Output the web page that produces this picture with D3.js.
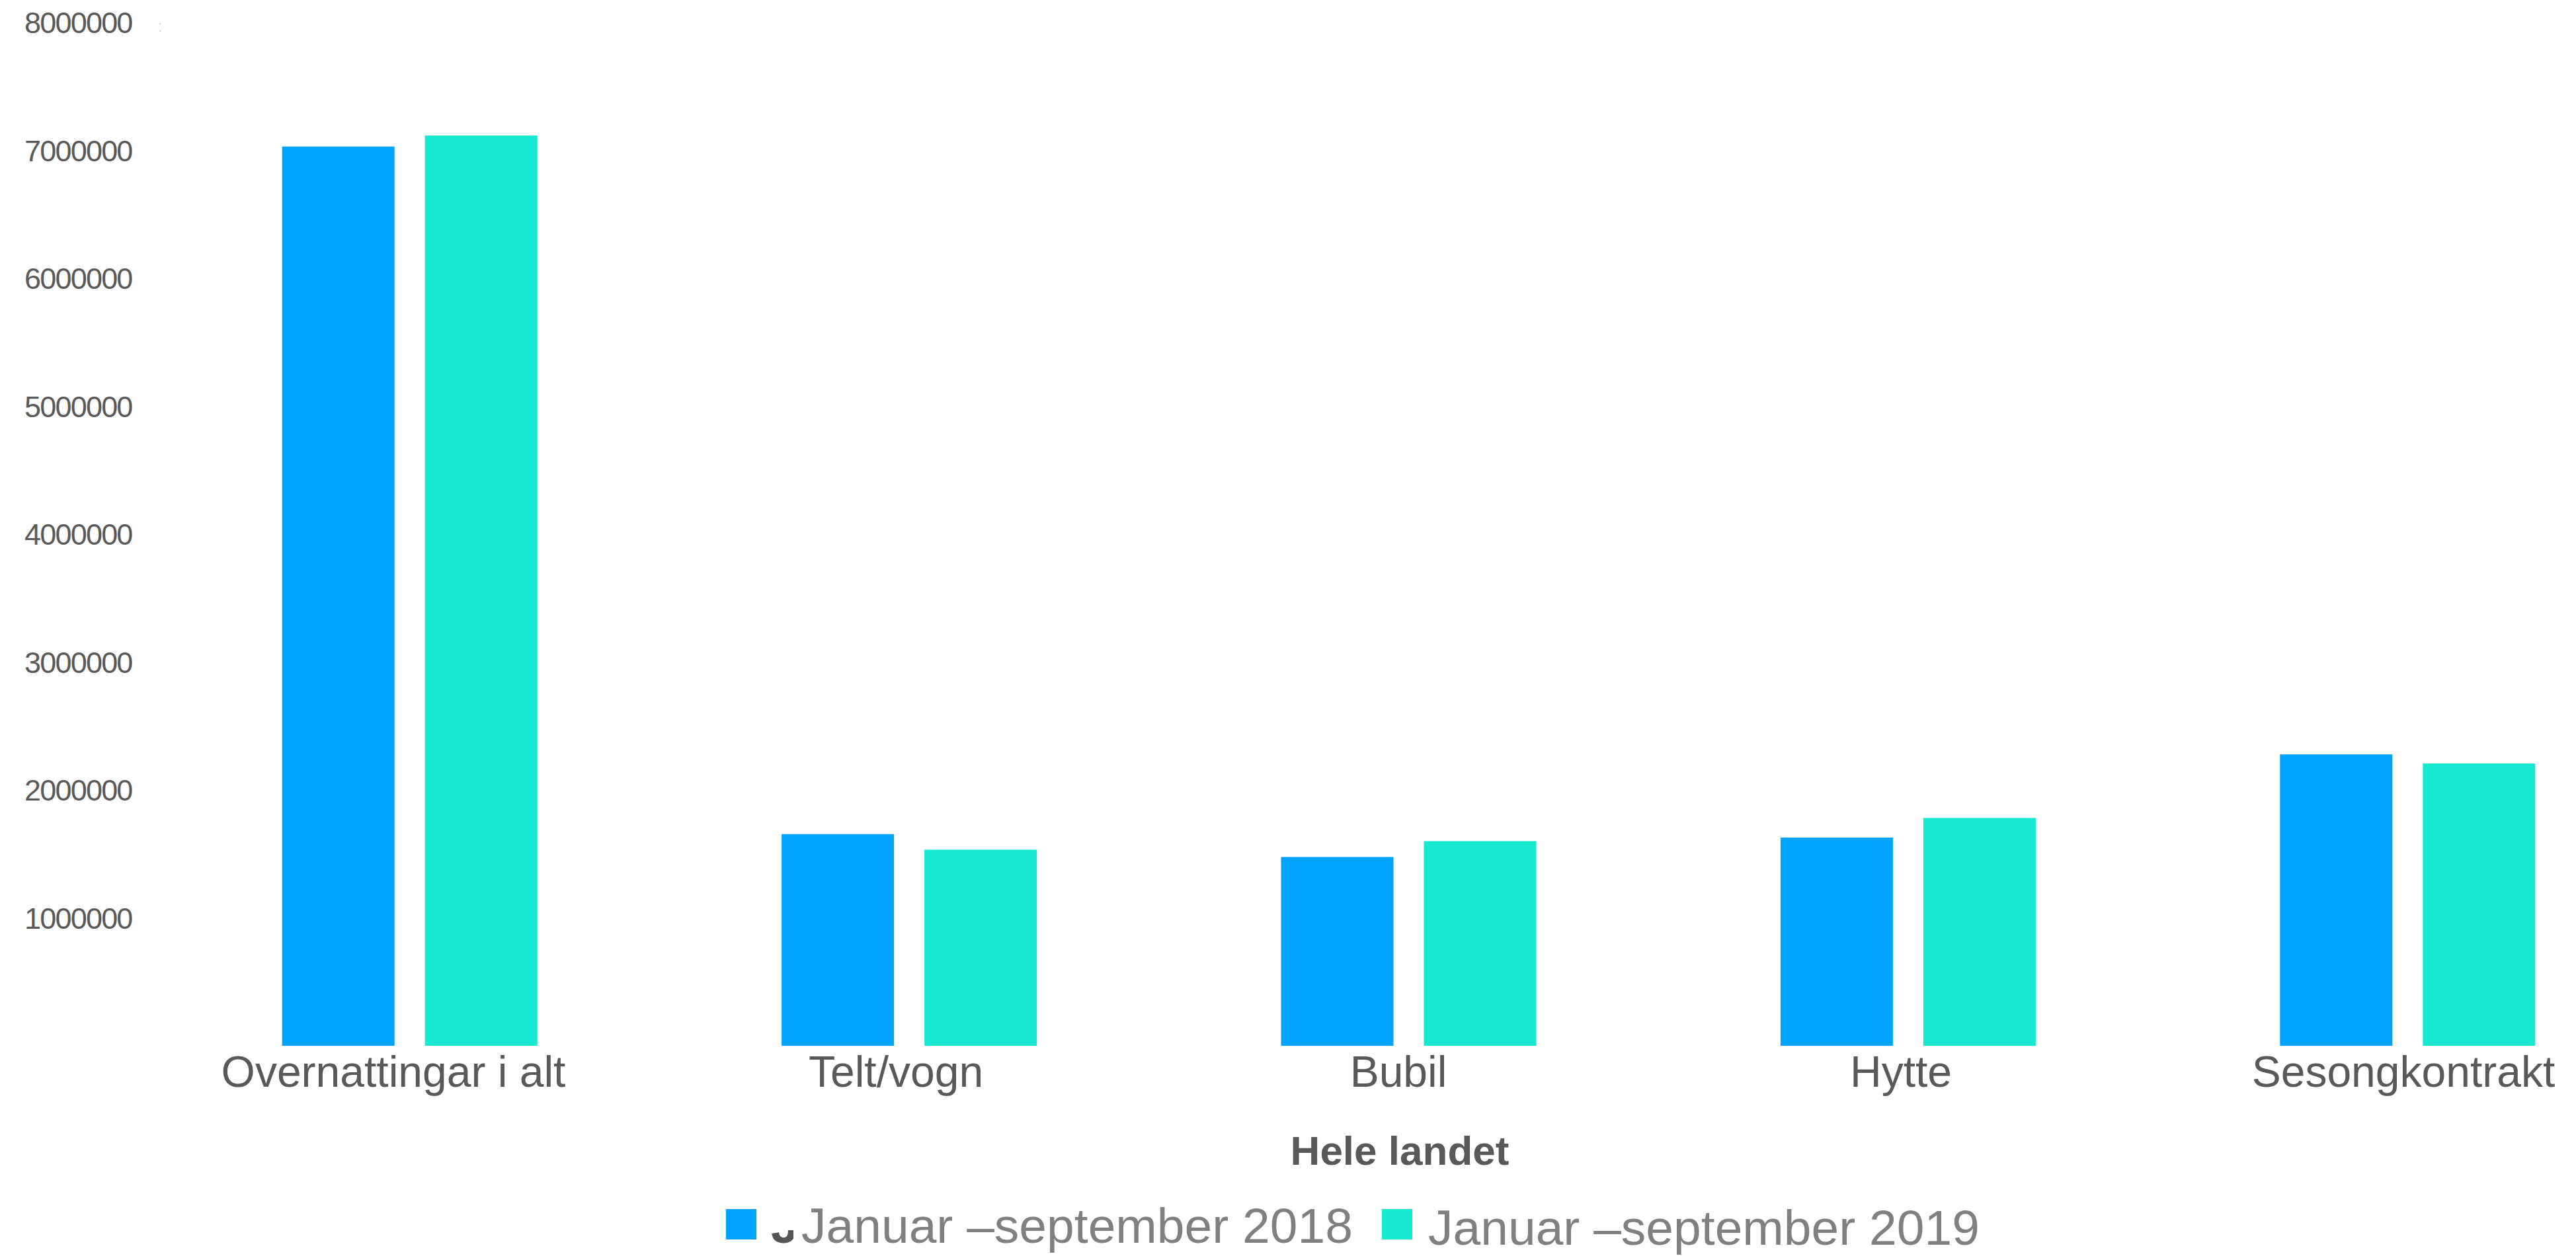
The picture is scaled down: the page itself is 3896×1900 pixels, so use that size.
<!DOCTYPE html>
<html>
<head>
<meta charset="utf-8">
<script src="https://cdn.jsdelivr.net/npm/d3@7"></script>
<style>
  html, body { margin: 0; padding: 0; background: #ffffff; }
  svg { display: block; font-family: "Liberation Sans", Arial, Helvetica, sans-serif; }
</style>
</head>
<body>
<svg id="chart" width="3896" height="1900"></svg>
<script>
// ---- data ----
const categories = ["Overnattingar i alt", "Telt/vogn", "Bubil", "Hytte", "Sesongkontrakt"];
const seriesNames = ["Januar \u2013september 2018", "Januar \u2013september 2019"];
const values2018 = [7030000, 1655000, 1476000, 1628000, 2278000];
const values2019 = [7116000, 1533000, 1600000, 1781000, 2207000];
const yTicks = [1000000, 2000000, 3000000, 4000000, 5000000, 6000000, 7000000, 8000000];
const axisTitle = "Hele landet";

// ---- styles ----
const colors = ["#00A4FF", "#17E9D1"];
const W = 3896, H = 1900;

const svg = d3.select("#chart");
svg.append("rect").attr("width", W).attr("height", H).attr("fill", "#ffffff");

const series = [values2018, values2019];
const table = categories.map((c, i) => ({ cat: c, vals: series.map((s, k) => ({ k, v: s[i] })) }));

const y = d3.scaleLinear().domain([0, 8000000]).range([1582, 34]);
const x0 = d3.scaleBand().domain(categories).range([242, 4019]).paddingInner(0.489).paddingOuter(0.2445);
const x1 = d3.scaleBand().domain([0, 1]).range([0, x0.bandwidth()]).paddingInner(0.213);
const xLabel = d3.scaleBand().domain(categories).range([215, 4015]);

// bars
const groups = svg.append("g").selectAll("g").data(table).join("g")
  .attr("transform", d => `translate(${x0(d.cat)},0)`);
groups.selectAll("rect").data(d => d.vals).join("rect")
  .attr("x", d => x1(d.k))
  .attr("width", x1.bandwidth())
  .attr("y", d => y(d.v))
  .attr("height", d => y(0) - y(d.v))
  .attr("fill", d => colors[d.k]);

// y axis labels
const yAxis = d3.axisLeft(y).tickValues(yTicks).tickSize(0).tickFormat(d3.format("d"));
const yg = svg.append("g").attr("transform", "translate(37,0)").call(yAxis);
yg.select(".domain").remove();
yg.selectAll("text")
  .attr("text-anchor", "start")
  .attr("x", 0)
  .attr("dy", "0.35em")
  .attr("fill", "#595959")
  .style("font-size", "45px")
  .style("letter-spacing", "-1.8px")
  .style("font-family", "'Liberation Sans', Arial, sans-serif");

// faint artifact near top tick
svg.append("text").attr("x", 239).attr("y", 48).attr("fill", "#dcdcdc")
  .style("font-size", "24px").text(":");

// x axis labels
const xAxis = d3.axisBottom(xLabel).tickSize(0).tickPadding(0);
const xg = svg.append("g").attr("transform", "translate(0,1644)").call(xAxis);
xg.select(".domain").remove();
xg.selectAll("text")
  .attr("y", 0).attr("dy", 0)
  .attr("fill", "#595959")
  .style("font-size", "66px")
  .style("font-family", "'Liberation Sans', Arial, sans-serif");

// axis title
svg.append("text")
  .attr("x", 2117).attr("y", 1762)
  .attr("text-anchor", "middle")
  .attr("fill", "#595959")
  .style("font-size", "62px")
  .style("font-weight", "bold")
  .text(axisTitle);

// legend
const legendPos = [{ sx: 1098, tx: 1212, ty: 1880 }, { sx: 2090, tx: 2160, ty: 1883 }];
const lg = svg.append("g").selectAll("g").data(seriesNames).join("g");
lg.append("rect")
  .attr("x", (d, i) => legendPos[i].sx).attr("y", 1829)
  .attr("width", 46).attr("height", 46)
  .attr("fill", (d, i) => colors[i]);
lg.append("text")
  .attr("x", (d, i) => legendPos[i].tx).attr("y", (d, i) => legendPos[i].ty)
  .attr("fill", "#808080")
  .style("font-size", "75px")
  .text(d => d);

// clipped glyph fragment in legend
svg.append("clipPath").attr("id", "jclip")
  .append("rect").attr("x", 1160).attr("y", 1861).attr("width", 40).attr("height", 30);
svg.append("text")
  .attr("x", 1166).attr("y", 1880)
  .attr("clip-path", "url(#jclip)")
  .attr("fill", "#555555")
  .style("font-size", "75px")
  .style("font-weight", "bold")
  .text("J");
</script>
</body>
</html>
